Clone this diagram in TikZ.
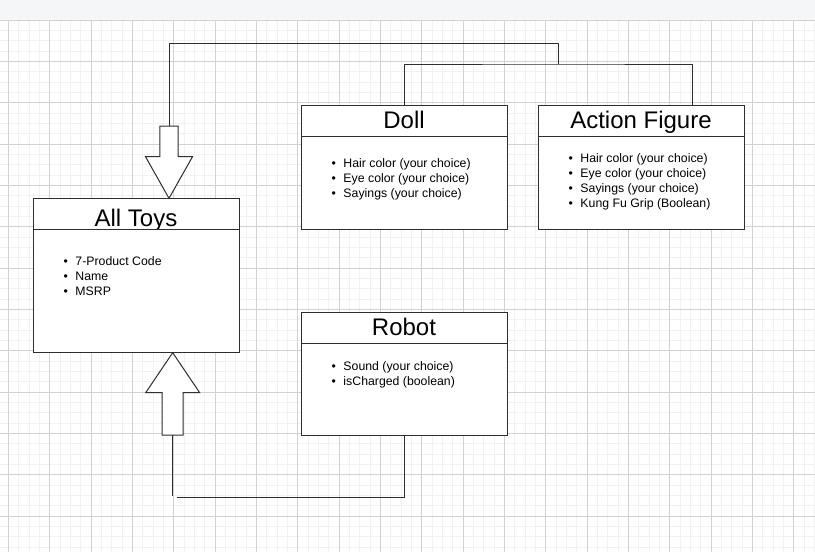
\documentclass[tikz,border=0pt]{standalone}
\usepackage{fontspec}
\setmainfont{Liberation Sans}
\usepackage{tikz}
\usetikzlibrary{positioning}
\usetikzlibrary{calc}
\usepackage{xcolor}

\definecolor{barcolor}{HTML}{F5F6F8}
\definecolor{minorgrid}{HTML}{F1F1F1}
\definecolor{majorgrid}{HTML}{D2D2D2}
\definecolor{boxline}{HTML}{2E2E2E}

\tikzset{
  classhead/.style={draw=boxline, line width=1pt, fill=white, minimum width=206pt,
    minimum height=31pt, inner sep=0pt, outer sep=0pt, font=\fontsize{24}{28}\selectfont,
    text height=18pt, text depth=2pt},
  classbody/.style={draw=boxline, line width=1pt, fill=white, minimum width=206pt,
    inner sep=0pt, outer sep=0pt},
  itemlist/.style={align=left, inner sep=0pt, font=\fontsize{12.3}{15}\selectfont,
    execute at begin node=\setlength{\baselineskip}{15pt}},
  link/.style={draw=boxline, line width=1pt},
  blockarrow/.style={draw=boxline, line width=1pt, fill=white, line join=miter},
}
\newcommand{\attr}[1]{\textbullet\hspace{7.5pt}#1}

\begin{document}
\begin{tikzpicture}[x=1pt, y=-1pt]
\useasboundingbox (0,0) rectangle (815,552);

%% canvas background and grid
\fill[barcolor] (0,0) rectangle (815,20);
\fill[white] (0,20) rectangle (815,552);
\begin{scope}
\clip (0,20) rectangle (815,552);
\foreach \i in {0,...,79}{
  \pgfmathsetmacro{\gx}{8.5+10.333*\i}
  \draw[minorgrid, line width=0.8pt] (\gx,20) -- (\gx,552);
}
\foreach \j in {0,...,52}{
  \pgfmathsetmacro{\gy}{20+10.333*\j}
  \draw[minorgrid, line width=0.8pt] (0,\gy) -- (815,\gy);
}
\foreach \i in {0,4,...,76}{
  \pgfmathsetmacro{\gx}{8.5+10.333*\i}
  \draw[majorgrid, line width=0.8pt] (\gx,20) -- (\gx,552);
}
\foreach \j in {4,8,...,52}{
  \pgfmathsetmacro{\gy}{20+10.333*\j}
  \draw[majorgrid, line width=0.8pt] (0,\gy) -- (815,\gy);
}
\end{scope}
\draw[gray!35, line width=1pt] (0,20) -- (815,20);

%% class boxes
\node[classhead, anchor=north west] (dollhead) at (301,105) {Doll};
\node[classbody, minimum height=93pt, below=0pt of dollhead] (dollbody) {};

\node[classhead, right=31pt of dollhead] (afhead) {Action Figure};
\node[classbody, minimum height=93pt, below=0pt of afhead] (afbody) {};

\node[classhead, below=83pt of dollbody] (robothead) {Robot};
\node[classbody, minimum height=92.6pt, below=0pt of robothead] (robotbody) {};

\node[classhead, anchor=north west, text height=26pt, text depth=0.2pt] (toyshead) at (33,198.3) {All Toys};
\node[classbody, minimum height=123.4pt, below=0pt of toyshead] (toysbody) {};

%% attribute lists
\node[itemlist, anchor=north west] (toyslist) at ($(toysbody.north west)+(30.5,27.2)$) {
\attr{7-Product Code}\\
\attr{Name}\\
\attr{MSRP}
};
\node[itemlist, anchor=north west] (dolllist) at ($(dollbody.north west)+(30.5,22)$) {
\attr{Hair color (your choice)}\\
\attr{Eye color (your choice)}\\
\attr{Sayings (your choice)}
};
\node[itemlist, anchor=north west] (aflist) at ($(afbody.north west)+(30.5,17.3)$) {
\attr{Hair color (your choice)}\\
\attr{Eye color (your choice)}\\
\attr{Sayings (your choice)}\\
\attr{Kung Fu Grip (Boolean)}
};
\node[itemlist, anchor=north west] (robotlist) at ($(robotbody.north west)+(30.5,18.3)$) {
\attr{Sound (your choice)}\\
\attr{isCharged (boolean)}
};

%% block arrows into All Toys
\coordinate (downtip) at ([xshift=33pt]toyshead.north);
\draw[blockarrow] (downtip) -- ++(-23.5,-41.6) -- ++(14.35,0) -- ++(0,-30.7)
  -- ++(18.3,0) -- ++(0,30.7) -- ++(14.35,0) -- cycle;
\coordinate (downtail) at ($(downtip)+(0,-72.3)$);

\coordinate (uptip) at ([xshift=36.7pt]toysbody.south);
\draw[blockarrow] (uptip) -- ++(-27,40) -- ++(16.5,0) -- ++(0,42.4)
  -- ++(21,0) -- ++(0,-42.4) -- ++(16.5,0) -- cycle;
\coordinate (uptail) at ($(uptip)+(0,82.4)$);

%% connectors
\coordinate (fork) at (558.7,64);
\coordinate (topleft) at (169,43.7);
\coordinate (bottomend) at (176.7,497.3);

\draw[link] (dollhead.north) |- (fork) -| ([xshift=51pt]afhead.north);
\draw[link] (fork) |- (topleft) -- (downtail);

\draw[link] (robotbody.south) |- (bottomend);
\draw[link] (uptail) -- ++(0,61);

\end{tikzpicture}
\end{document}
